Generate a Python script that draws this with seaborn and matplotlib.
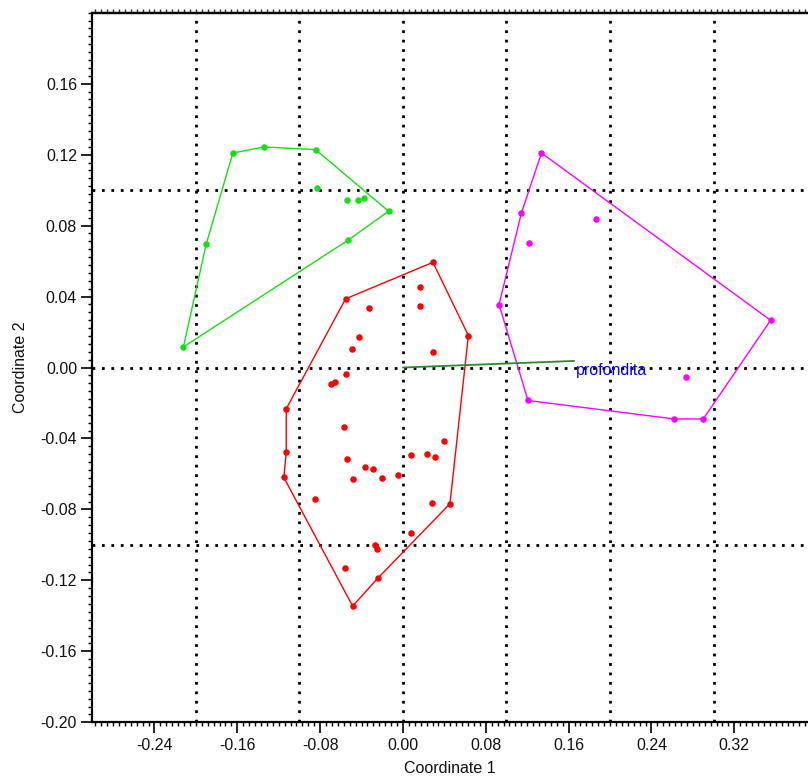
import matplotlib
matplotlib.use("Agg")
import matplotlib.pyplot as plt
from matplotlib.ticker import MultipleLocator, FuncFormatter
import seaborn as sns
import pandas as pd

# Ordination scores per group (Coordinate 1, Coordinate 2)
green_x = [-0.212, -0.190, -0.1643, -0.1344, -0.0844, -0.0831, -0.0544, -0.0438, -0.0373, -0.0138, -0.0532]
green_y = [0.0116, 0.0695, 0.1209, 0.1243, 0.1228, 0.1012, 0.0946, 0.0944, 0.0954, 0.0881, 0.0717]
green_hull = [0, 1, 2, 3, 4, 9, 10, 0]

red_x = [0.0290, 0.0161, 0.0161, 0.0632, 0.0290, -0.0554, -0.0329, -0.0428, -0.0496, -0.0547,
         -0.0660, -0.0696, -0.1127, -0.1127, -0.1150, -0.0573, -0.0541, -0.0363, -0.0290, -0.0483,
         -0.0199, -0.0048, -0.0851, 0.0077, 0.0232, 0.0313, 0.0393, 0.0277, 0.0454, 0.0077,
         -0.0271, -0.0251, -0.0561, -0.0245, -0.0486]
red_y = [0.0593, 0.0452, 0.0349, 0.0180, 0.0088, 0.0387, 0.0336, 0.0173, 0.0105, -0.0036,
         -0.0081, -0.0092, -0.0233, -0.0475, -0.0620, -0.0336, -0.0513, -0.0563, -0.0573, -0.0627,
         -0.0624, -0.0607, -0.0740, -0.0496, -0.0488, -0.0504, -0.0413, -0.0761, -0.0768, -0.0935,
         -0.1003, -0.1024, -0.1132, -0.1189, -0.1345]
red_hull = [0, 3, 28, 33, 34, 14, 13, 12, 5, 0]

magenta_x = [0.1338, 0.1144, 0.1215, 0.1860, 0.0928, 0.3551, 0.2733, 0.1208, 0.2620, 0.2900]
magenta_y = [0.1209, 0.0871, 0.0700, 0.0837, 0.0355, 0.0266, -0.0055, -0.0186, -0.0290, -0.0290]
magenta_hull = [0, 5, 9, 8, 7, 4, 1, 0]

# Environmental vector
vector_name = "profondita"
vector_x = 0.1653
vector_y = 0.0037

groups = [
    ("g1", green_x, green_y, green_hull, "#14e014"),
    ("g2", red_x, red_y, red_hull, "#ff0000"),
    ("g3", magenta_x, magenta_y, magenta_hull, "#ff00ff"),
]

sns.set_theme(style="white")
plt.rcParams["font.family"] = ["Liberation Sans", "DejaVu Sans"]

W, H = 808, 778
fig = plt.figure(figsize=(W / 100, H / 100), dpi=100)
left, right, top, bottom = 92.3, 808, 12.7, 722.3
ax = fig.add_axes([left / W, 1 - bottom / H, (right - left) / W, (bottom - top) / H])

# dotted reference grid
for gx in [-0.2, -0.1, 0.0, 0.1, 0.2, 0.3]:
    ax.axvline(gx, color="black", lw=2.0, ls=(0, (1, 2.4)), zorder=1)
for gy in [-0.1, 0.0, 0.1]:
    ax.axhline(gy, color="black", lw=2.0, ls=(0, (1, 2.4)), zorder=1)

for name, xs, ys, hull, col in groups:
    hx = [xs[i] for i in hull]
    hy = [ys[i] for i in hull]
    ax.plot(hx, hy, color=col, lw=1.0, zorder=2)
    df = pd.DataFrame({"x": xs, "y": ys})
    sns.scatterplot(data=df, x="x", y="y", ax=ax, color=col, s=22,
                    edgecolor=col, linewidth=0, zorder=3)

ax.plot([0, vector_x], [0, vector_y], color="#2a8a2a", lw=1.3, zorder=4)
ax.text(vector_x + 0.002, vector_y - 0.0055, vector_name, color="#0000ff",
        fontsize=11.5, ha="left", va="center", zorder=5)

ax.set_xlim(-0.30, 0.3912)
ax.set_ylim(-0.20, 0.20)


def two_dec(v, _pos):
    return "0.00" if abs(v) < 1e-9 else f"{v:.2f}"


ax.xaxis.set_major_locator(MultipleLocator(0.08))
ax.yaxis.set_major_locator(MultipleLocator(0.04))
ax.xaxis.set_minor_locator(MultipleLocator(0.08 / 14))
ax.yaxis.set_minor_locator(MultipleLocator(0.04 / 9))
ax.set_xticks([t for t in ax.get_xticks() if -0.30 < t < 0.39])
ax.set_yticks([t for t in ax.get_yticks() if -0.201 < t < 0.199])
ax.xaxis.set_major_formatter(FuncFormatter(two_dec))
ax.yaxis.set_major_formatter(FuncFormatter(two_dec))
ax.tick_params(which="major", direction="out", length=8, width=1.2, color="black",
               labelsize=11.5, pad=3, labelcolor="#111111", bottom=True, left=True)
ax.tick_params(which="minor", direction="out", length=3, width=1.0, color="black",
               bottom=True, left=True)

# minor marks along the top edge
top_ax = ax.secondary_xaxis("top")
top_ax.xaxis.set_major_locator(MultipleLocator(0.08 / 14))
top_ax.tick_params(which="major", direction="out", length=3, width=1.0, labeltop=False)
top_ax.spines["top"].set_linewidth(1.6)

for s in ["left", "bottom", "top"]:
    ax.spines[s].set_visible(True)
    ax.spines[s].set_color("black")
    ax.spines[s].set_linewidth(1.6)
ax.spines["right"].set_visible(False)

ax.set_xlabel("Coordinate 1", fontsize=11.5, labelpad=6, color="#111111")
ax.set_ylabel("Coordinate 2", fontsize=11.5, labelpad=9, color="#111111")

fig.savefig("out.png", dpi=100)
